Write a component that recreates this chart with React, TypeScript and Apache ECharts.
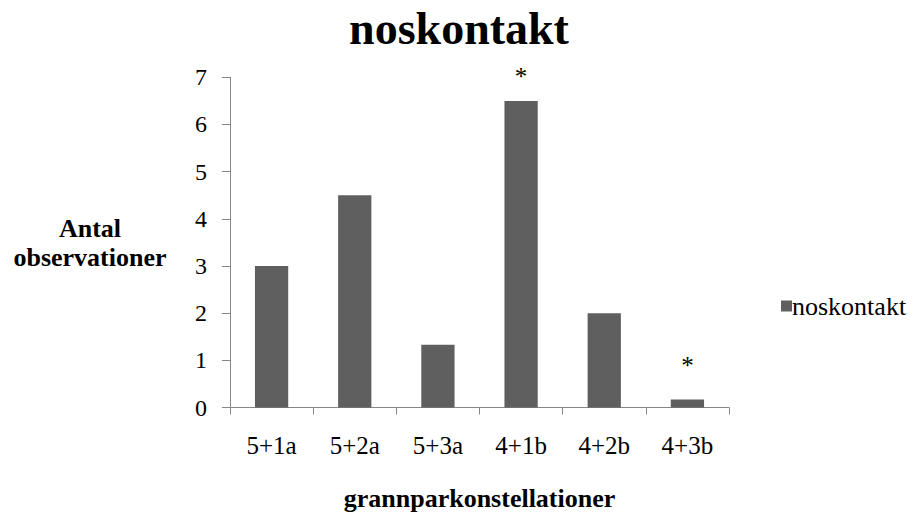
import React, { useEffect, useRef } from "react";
import * as echarts from "echarts";

const categories = ["5+1a", "5+2a", "5+3a", "4+1b", "4+2b", "4+3b"];
const values = [3, 4.5, 1.33, 6.5, 2, 0.17];
const starred = [false, false, false, true, false, true];
const starDistance = [0, 0, 0, 12, 0, 21];
const yTicks = [0, 1, 2, 3, 4, 5, 6, 7];
const seriesName = "noskontakt";
const chartTitle = "noskontakt";
const yName = "Antal\nobservationer";
const xName = "grannparkonstellationer";

const SERIF = "Liberation Serif";
const AXIS = "#868686";
const BAR = "#5f5f5f";

export default function App() {
  const ref = useRef<HTMLDivElement>(null);
  useEffect(() => {
    if (!ref.current) return;
    const chart = echarts.init(ref.current, undefined, { renderer: "svg" });
    chart.setOption({
      animation: false,
      backgroundColor: "#ffffff",
      title: {
        text: chartTitle,
        left: "center",
        top: 0,
        textStyle: { fontFamily: SERIF, fontWeight: "bold", fontSize: 46, color: "#000" },
      },
      legend: {
        data: [seriesName],
        left: 776,
        top: 288,
        icon: "rect",
        itemWidth: 11,
        itemHeight: 11,
        itemGap: 5,
        textStyle: { fontFamily: SERIF, fontSize: 26, color: "#000", padding: [0, 0, 0, -5] },
      },
      grid: {
        left: 230,
        right: 189,
        top: 77.3,
        bottom: 104.5,
        containLabel: false,
        outerBoundsMode: "none",
      },
      graphic: [
        {
          type: "text",
          x: 90,
          y: 243,
          style: {
            text: yName,
            fontFamily: SERIF,
            fontWeight: "bold",
            fontSize: 26,
            lineHeight: 29,
            fill: "#000",
            textAlign: "center",
            textVerticalAlign: "middle",
          },
        },
      ],
      xAxis: {
        type: "category",
        data: categories,
        name: xName,
        nameLocation: "middle",
        nameGap: 78,
        nameTextStyle: { fontFamily: SERIF, fontWeight: "bold", fontSize: 26, color: "#000" },
        axisLine: { show: true, lineStyle: { color: AXIS, width: 1 } },
        axisTick: { show: true, length: 7, alignWithLabel: false, lineStyle: { color: AXIS } },
        axisLabel: { margin: 25, interval: 0, fontFamily: SERIF, fontSize: 25, color: "#000" },
        splitLine: { show: false },
      },
      yAxis: {
        type: "value",
        min: yTicks[0],
        max: yTicks[yTicks.length - 1],
        interval: 1,
        axisLine: { show: true, lineStyle: { color: AXIS, width: 1 } },
        axisTick: { show: true, length: 8, lineStyle: { color: AXIS } },
        axisLabel: { margin: 23, fontFamily: SERIF, fontSize: 24, color: "#000" },
        splitLine: { show: false },
      },
      series: [
        {
          name: seriesName,
          type: "bar",
          barWidth: "40%",
          itemStyle: { color: BAR },
          data: values.map((v, i) => ({
            value: v,
            label: starred[i]
              ? {
                  show: true,
                  position: "top",
                  distance: starDistance[i],
                  formatter: "*",
                  fontFamily: SERIF,
                  fontSize: 25,
                  color: "#000",
                }
              : { show: false },
          })),
        },
      ],
    });
    return () => chart.dispose();
  }, []);
  return <div ref={ref} style={{ width: 918, height: 512, position: "absolute", left: 0, top: 0 }} />;
}
